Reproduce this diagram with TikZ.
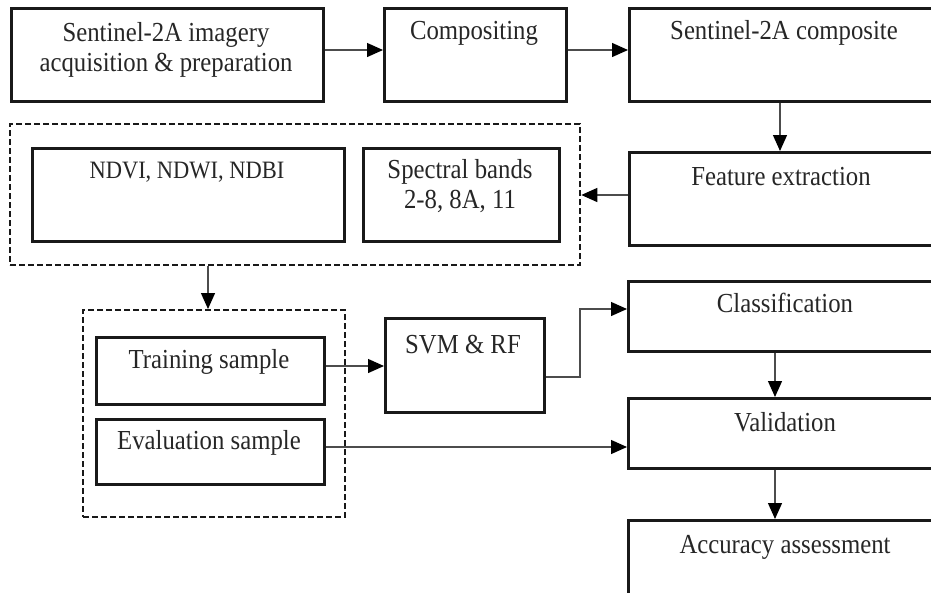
\documentclass[tikz,border=0pt]{standalone}
\usepackage{fontspec}
\setmainfont[FakeStretch=0.9]{Liberation Serif}
\usetikzlibrary{arrows.meta,calc}
\begin{document}
\begin{tikzpicture}[x=1pt,y=-1pt,
 box/.style={draw=black!90, line width=2.5pt, anchor=north west, inner sep=0pt},
 dbox/.style={draw=black!90, line width=2.3pt, dash pattern=on 6pt off 3pt, anchor=north west, inner sep=0pt},
 txt/.style={font=\fontsize{27.5}{30}\selectfont, align=center, text=black!85, inner sep=0pt},
 stxt/.style={font=\fontsize{25}{28}\selectfont, align=center, text=black!85, inner sep=0pt},
 conn/.style={draw=black!70, line width=1.3pt, -{Triangle[length=16pt,width=14pt,fill=black,color=black]}}
]
\useasboundingbox (0,0) rectangle (931,592);
\clip (0,0) rectangle (931,592);
% boxes
\node[box, minimum width=312, minimum height=93] (b1) at (10,7) {};
\node[box, minimum width=182, minimum height=93] (b2) at (383,7) {};
\node[box, minimum width=310, minimum height=93] (b3) at (628,7) {};
\node[dbox, minimum width=570, minimum height=141] (d1) at (9,123) {};
\node[box, minimum width=312, minimum height=93] (nd) at (31,147) {};
\node[box, minimum width=196, minimum height=93] (sb) at (362,147) {};
\node[box, minimum width=310, minimum height=93] (fe) at (628,151) {};
\node[dbox, minimum width=262, minimum height=207] (d2) at (82,309) {};
\node[box, minimum width=228, minimum height=67] (tr) at (95,336) {};
\node[box, minimum width=228, minimum height=65] (ev) at (95,418) {};
\node[box, minimum width=159, minimum height=94] (svm) at (384,317) {};
\node[box, minimum width=311, minimum height=70] (cl) at (627,280) {};
\node[box, minimum width=311, minimum height=70] (va) at (627,397) {};
\node[box, minimum width=311, minimum height=85] (ac) at (627,519) {};
% texts
\node[txt] (t1) at (166,50) {Sentinel-2A imagery\\acquisition \& preparation};
\node[txt] (t2) at (474,33) {Compositing};
\node[txt] (t3) at (784,33) {Sentinel-2A composite};
\node[stxt] (tnd) at (187,172) {NDVI, NDWI, NDBI};
\node[txt] (tsb) at (460,186) {Spectral bands\\2-8, 8A, 11};
\node[txt] (tfe) at (781,177) {Feature extraction};
\node[txt] (ttr) at (209,362) {Training sample};
\node[txt] (tev) at (209,443) {Evaluation sample};
\node[txt] (tsvm) at (463,345) {SVM \& RF};
\node[txt] (tcl) at (785,303) {Classification};
\node[txt] (tva) at (785,422) {Validation};
\node[txt] (tac) at (785,547) {Accuracy assessment};
% helper coordinates
\coordinate (ya) at (0,50);
\coordinate (xa) at (780,0);
\coordinate (yf) at (0,195);
\coordinate (xd) at (208,0);
\coordinate (yt) at (0,366);
\coordinate (ys) at (0,377);
\coordinate (bend) at (580,309);
\coordinate (ye) at (0,447);
\coordinate (xv) at (775,0);
% connectors
\draw[conn] (b1.east |- ya) -- (b2.west |- ya);
\draw[conn] (b2.east |- ya) -- (b3.west |- ya);
\draw[conn] (b3.south -| xa) -- (fe.north -| xa);
\draw[conn] (fe.west |- yf) -- (d1.east |- yf);
\draw[conn] (d1.south -| xd) -- (d2.north -| xd);
\draw[conn] (tr.east |- yt) -- (svm.west |- yt);
\draw[conn] (svm.east |- ys) -| (bend) -- (cl.west |- bend);
\draw[conn] (cl.south -| xv) -- (va.north -| xv);
\draw[conn] (ev.east |- ye) -- (va.west |- ye);
\draw[conn] (va.south -| xv) -- (ac.north -| xv);
\end{tikzpicture}
\end{document}
